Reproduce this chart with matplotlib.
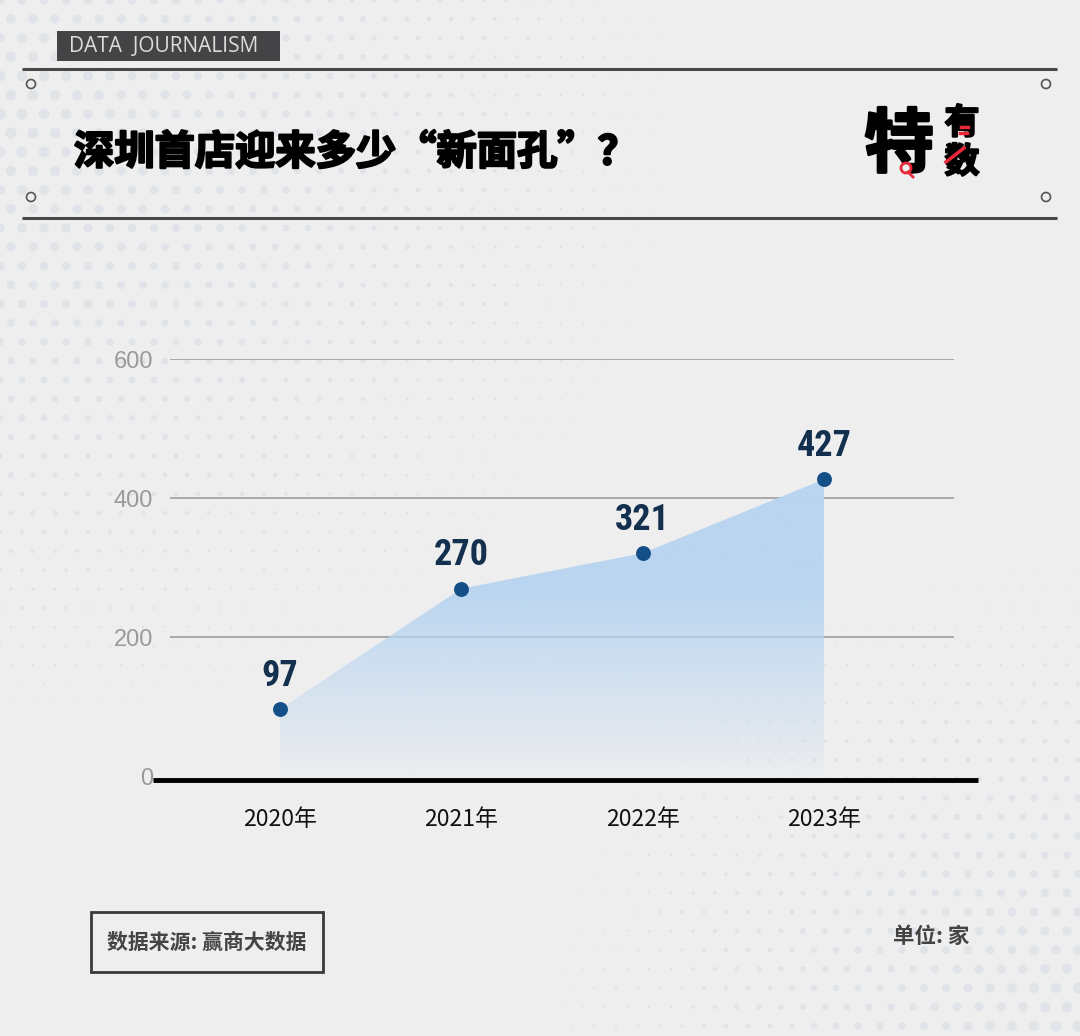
import numpy as np
import matplotlib.pyplot as plt
import matplotlib.patheffects as pe
from matplotlib.patches import Rectangle, Circle, Polygon

years = ['2020年', '2021年', '2022年', '2023年']
counts = [97, 270, 321, 427]
yticks = [0, 200, 400, 600]

CJK = ['Noto Sans CJK SC', 'DejaVu Sans']
W, H = 1080, 1036
BG = '#eeeeee'

fig = plt.figure(figsize=(W / 100, H / 100), dpi=100, facecolor=BG)

# background layer in pixel coordinates
bg = fig.add_axes([0, 0, 1, 1], zorder=-1)
bg.set_xlim(0, W)
bg.set_ylim(H, 0)
bg.axis('off')

# halftone dots
gx, gy = np.meshgrid(np.arange(0, W + 22, 22), np.arange(0, H + 22, 19))
gx = gx + (np.arange(gy.shape[0])[:, None] % 2) * 11
da = np.hypot(gx / 760, (gy - 120) / 680)
db = np.hypot((gx - 1100) / 620, (gy - 1020) / 520)
rad = np.maximum(np.maximum(0, 1 - da), np.maximum(0, 1 - db)) * 11
keep = rad > 1.2
bg.scatter(gx[keep], gy[keep], s=rad[keep] ** 2 * 0.55, color='#e0e3e7', lw=0)

# header
bg.add_patch(Rectangle((57, 31), 223, 30, facecolor='#444446', edgecolor='none'))
bg.text(69, 46.5, 'DATA  JOURNALISM', fontsize=15, color='#dcdcdc',
        family='Open Sans', va='center', ha='left')
for yy in (69, 218):
    bg.plot([22, 1057], [yy, yy], color='#48484a', lw=2.2, solid_capstyle='butt')
for cx in (31, 1046):
    for cy in (84, 197):
        bg.add_patch(Circle((cx, cy), 4.5, facecolor=BG, edgecolor='#555555', lw=1.2))

heavy = [pe.withStroke(linewidth=1.6, foreground='black')]
bg.text(74, 153, '深圳首店迎来多少“新面孔”？', fontsize=29, fontweight='bold',
        family=CJK, va='center', ha='left', color='black', path_effects=heavy)

# logo
bg.text(899, 146, '特', fontsize=50, fontweight='bold', family=CJK,
        ha='center', va='center', color='black',
        path_effects=[pe.withStroke(linewidth=2, foreground='black')])
bg.text(962, 123, '有', fontsize=25, fontweight='bold', family=CJK,
        ha='center', va='center', color='black', path_effects=heavy)
bg.text(962, 162, '数', fontsize=25, fontweight='bold', family=CJK,
        ha='center', va='center', color='black', path_effects=heavy)
bg.add_patch(Circle((906, 168), 5, facecolor=BG, edgecolor='#e8283a', lw=2, zorder=5))
bg.plot([908, 913], [172, 177], color='#e8283a', lw=2, zorder=5)
bg.plot([946, 964], [162, 148], color='#e8283a', lw=2.5, zorder=5)
bg.plot([961, 968], [127, 127], color='#e8283a', lw=2.5, zorder=5)
bg.plot([960, 967], [133, 133], color='#e8283a', lw=2.5, zorder=5)

# footer
bg.add_patch(Rectangle((91, 912), 232, 60, facecolor='none', edgecolor='#3a3a3a', lw=2))
bg.text(207, 942, '数据来源: 赢商大数据', fontsize=15, fontweight='bold', family=CJK,
        color='#444444', ha='center', va='center')
bg.text(969, 936, '单位: 家', fontsize=15.5, fontweight='bold', family=CJK,
        color='#444444', ha='right', va='center')

# chart
ax = fig.add_axes([170 / W, 1 - 780 / H, 784 / W, 421 / H])
ax.patch.set_alpha(0)
x = np.arange(len(counts))
XL = ((170 - 280) / 181.3, (954 - 280) / 181.3)
YL = (-5, 600)
for s in ax.spines.values():
    s.set_visible(False)

ax.set_yticks(yticks)
ax.grid(axis='y', color='#a9a9a9', lw=1.4)
ax.set_axisbelow(True)
ax.tick_params(axis='y', length=0, pad=12, labelsize=17, labelcolor='#9a9a9a')
for t in ax.get_yticklabels():
    t.set_family(['Liberation Sans', 'DejaVu Sans'])
ax.yaxis.get_gridlines()[0].set_visible(False)
ax.set_xticks(x, years)
ax.tick_params(axis='x', length=0, pad=20, labelsize=16.5, labelcolor='#111111')
for t in ax.get_xticklabels():
    t.set_family(CJK)

# gradient area
verts = [(x[0], 0)] + list(zip(x, counts)) + [(x[-1], 0)]
area = Polygon(verts, closed=True, facecolor='none', edgecolor='none')
ax.add_patch(area)
yy = np.linspace(0, 1, 300)[:, None]
alpha = np.clip((yy * 600) / 270, 0, 1) * 0.94 + 0.04
img = np.zeros((300, 1, 4))
img[..., 0] = 0xb9 / 255
img[..., 1] = 0xd5 / 255
img[..., 2] = 0xf1 / 255
img[..., 3] = alpha
im = ax.imshow(img, extent=[x[0], x[-1], 0, 600], origin='lower', aspect='auto', zorder=1)
im.set_clip_path(area)
ax.set_xlim(*XL)
ax.set_ylim(*YL)

# thick baseline at the bottom of the plot
ax.plot([-0.022, 1.03], [0, 0], transform=ax.transAxes, color='black',
        lw=3.5, clip_on=False, zorder=3, solid_capstyle='butt')

ax.scatter(x, counts, s=115, color='#144f88', zorder=5, lw=0)
for xi, v in zip(x, counts):
    ax.annotate(str(v), (xi, v), xytext=(0, 11), textcoords='offset points',
                ha='center', va='bottom', fontsize=26, fontweight='bold',
                color='#13304f', family=['Roboto Condensed', 'DejaVu Sans'])

fig.savefig('out.png', dpi=100, facecolor=BG)
